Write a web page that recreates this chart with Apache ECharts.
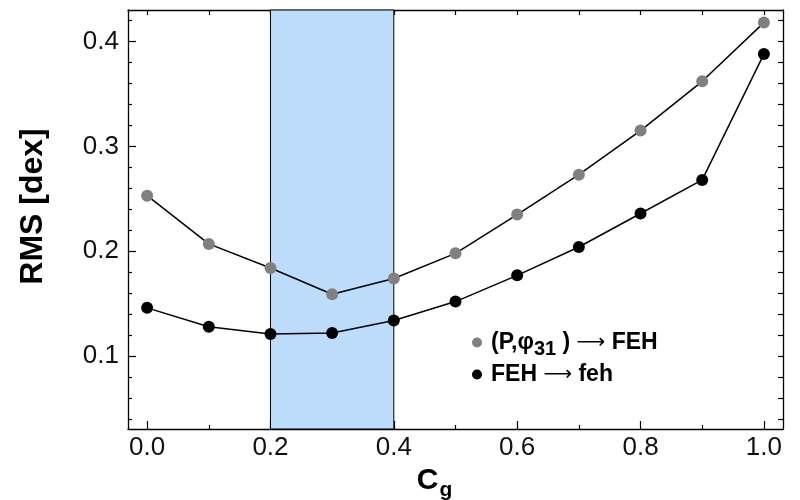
<!DOCTYPE html>
<html>
<head>
<meta charset="utf-8">
<script src="https://cdn.jsdelivr.net/npm/echarts@6/dist/echarts.min.js"></script>
<style>
html, body { margin: 0; padding: 0; background: #fff; }
#chart { width: 800px; height: 500px; }
</style>
</head>
<body>
<div id="chart"></div>
<script>
var cgValues = [0.0, 0.1, 0.2, 0.3, 0.4, 0.5, 0.6, 0.7, 0.8, 0.9, 1.0];
var rmsPhase = [0.253, 0.207, 0.184, 0.159, 0.174, 0.198, 0.235, 0.273, 0.315, 0.362, 0.418];
var rmsFeh = [0.146, 0.128, 0.121, 0.122, 0.134, 0.152, 0.177, 0.204, 0.236, 0.268, 0.388];
var seriesNames = ['(P,φ31) → FEH', 'FEH → feh'];
var bandRange = [0.2, 0.4];

var xMajorTicks = [0.0, 0.2, 0.4, 0.6, 0.8, 1.0];
var xMinorTicks = [0.1, 0.3, 0.5, 0.7, 0.9];
var xAllTicks = [0.0, 0.1, 0.2, 0.3, 0.4, 0.5, 0.6, 0.7, 0.8, 0.9, 1.0];
var yMajorTicks = [0.1, 0.2, 0.3, 0.4];
var yMinorTicks = [0.04, 0.06, 0.08, 0.12, 0.14, 0.16, 0.18, 0.22, 0.24, 0.26, 0.28,
                   0.32, 0.34, 0.36, 0.38, 0.42];
var yAllTicks = [0.04, 0.06, 0.08, 0.10, 0.12, 0.14, 0.16, 0.18, 0.20, 0.22, 0.24, 0.26, 0.28,
                 0.30, 0.32, 0.34, 0.36, 0.38, 0.40, 0.42];

var font = "'Liberation Sans', Arial, Helvetica, sans-serif";
var xMin = -0.031, xMax = 1.031, yMin = 0.0305, yMax = 0.43;

function pairs(xs, ys) {
    var out = [];
    for (var i = 0; i < xs.length; i++) out.push([xs[i], ys[i]]);
    return out;
}

function xAxisBase(pos, ticks, len, line) {
    return {
        type: 'value', position: pos, min: xMin, max: xMax,
        axisLine: { show: line, onZero: false, lineStyle: { color: '#000', width: 1.3 } },
        axisTick: { show: true, inside: true, length: len, customValues: ticks,
                    lineStyle: { color: '#000', width: 1.2 } },
        axisLabel: { show: false },
        splitLine: { show: false }
    };
}
function yAxisBase(pos, ticks, len, line) {
    return {
        type: 'value', position: pos, min: yMin, max: yMax,
        axisLine: { show: line, onZero: false, lineStyle: { color: '#000', width: 1.3 } },
        axisTick: { show: true, inside: true, length: len, customValues: ticks,
                    lineStyle: { color: '#000', width: 1.2 } },
        axisLabel: { show: false },
        splitLine: { show: false }
    };
}

var xMain = xAxisBase('bottom', xMajorTicks, 8, true);
xMain.axisLabel = {
    show: true, customValues: xMajorTicks, margin: 6,
    fontFamily: font, fontSize: 26, color: '#111',
    formatter: function (v) { return v.toFixed(1); }
};
xMain.name = '{c|C}{g|g}';
xMain.nameLocation = 'middle';
xMain.nameGap = 26;
xMain.nameTextStyle = {
    padding: [0, 42, 0, 0],
    rich: {
        c: { fontFamily: font, fontSize: 30, fontWeight: 'bold', color: '#000' },
        g: { fontFamily: font, fontSize: 21, fontWeight: 'bold', color: '#000', padding: [18, 0, 0, 1] }
    }
};

var yMain = yAxisBase('left', yMajorTicks, 8, true);
yMain.axisLabel = {
    show: true, customValues: yMajorTicks, margin: 9,
    fontFamily: font, fontSize: 26, color: '#111',
    formatter: function (v) { return v.toFixed(1); }
};
yMain.name = 'RMS [dex]';
yMain.nameLocation = 'middle';
yMain.nameRotate = 90;
yMain.nameGap = 79;
yMain.nameTextStyle = { fontFamily: font, fontSize: 32, fontWeight: 'bold', color: '#000', padding: [0, 0, 0, 26] };

var legendRich = {
    b: { fontFamily: font, fontSize: 23, fontWeight: 'bold', color: '#000' },
    a: { fontFamily: "'DejaVu Sans'", fontSize: 20, fontWeight: 'normal', color: '#000' },
    s: { fontFamily: font, fontSize: 20, fontWeight: 'bold', color: '#000', padding: [13, 0, 0, 0] }
};

var option = {
    animation: false,
    backgroundColor: '#fff',
    grid: { left: 128, right: 17, top: 10, bottom: 71, containLabel: false, outerBoundsMode: 'none' },
    legend: {
        data: seriesNames,
        orient: 'vertical',
        left: 467, top: 326,
        icon: 'circle',
        itemWidth: 10, itemHeight: 10,
        itemGap: 4,
        textStyle: {
            fontFamily: font, fontSize: 23, fontWeight: 'bold', color: '#000',
            padding: [0, 0, 0, 4],
            rich: legendRich
        },
        formatter: function (name) {
            if (name === seriesNames[0]) return '{b|(P,φ}{s|31}{b| ) }{a|⟶}{b| FEH}';
            return '{b|FEH }{a|⟶}{b| feh}';
        }
    },
    xAxis: [
        xMain,
        xAxisBase('bottom', xMinorTicks, 4, false),
        xAxisBase('top', xAllTicks, 5, true)
    ],
    yAxis: [
        yMain,
        yAxisBase('left', yMinorTicks, 4, false),
        yAxisBase('right', yAllTicks, 5, true)
    ],
    series: [
        {
            name: seriesNames[0],
            type: 'line',
            data: pairs(cgValues, rmsPhase),
            symbol: 'circle', symbolSize: 12,
            itemStyle: { color: '#808080' },
            lineStyle: { color: '#000', width: 1.5 },
            z: 3,
            markArea: {
                silent: true,
                itemStyle: { color: '#bddcfb', borderColor: '#000', borderWidth: 1 },
                data: [[{ xAxis: bandRange[0] }, { xAxis: bandRange[1] }]]
            }
        },
        {
            name: seriesNames[1],
            type: 'line',
            data: pairs(cgValues, rmsFeh),
            symbol: 'circle', symbolSize: 12,
            itemStyle: { color: '#000' },
            lineStyle: { color: '#000', width: 1.5 },
            z: 4
        }
    ]
};

var chart = echarts.init(document.getElementById('chart'));
chart.setOption(option);
</script>
</body>
</html>
